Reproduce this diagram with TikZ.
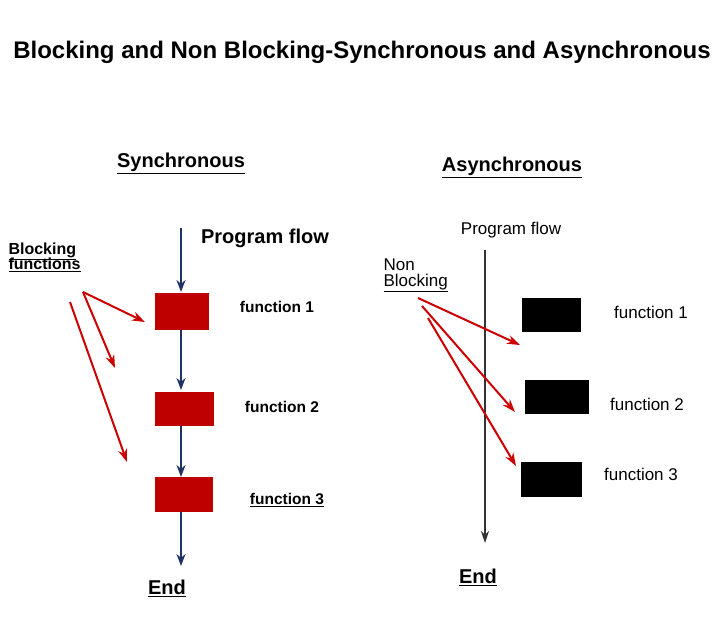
\documentclass[tikz,border=0pt]{standalone}
\usepackage{fontspec}
\setmainfont{Liberation Sans}
\usetikzlibrary{arrows.meta}
\begin{document}
\begin{tikzpicture}[x=1pt,y=-1pt,
 lab/.style={font=\bfseries\fontsize{20}{24}\selectfont},
 fb/.style={font=\bfseries\fontsize{15.5}{18}\selectfont},
 fl/.style={font=\fontsize{17}{20}\selectfont},
 rbox/.style={fill=red!75!black,draw=none,anchor=north west},
 bbox/.style={fill=black,draw=none,anchor=north west},
 blue/.style={draw={rgb,255:red,30;green,50;blue,100},line width=2pt,-{Stealth[length=12pt,width=9pt]}},
 red/.style={draw=red!80!black,line width=2pt,-{Stealth[length=13pt,width=9pt]}},
 blk/.style={draw=black!80,line width=1.6pt,-{Stealth[length=12pt,width=8pt]}}]
\useasboundingbox[fill=white] (0,0) rectangle (720,620);
\node[font=\bfseries\fontsize{24}{28}\selectfont] (title) at (362,52) {Blocking and Non Blocking-Synchronous and Asynchronous};
\node[lab] (sync) at (181,163) {\underline{Synchronous}};
\node[lab] (async) at (512,167) {\underline{Asynchronous}};
% left
\coordinate (s0) at (181,228);
\node[rbox,minimum width=54pt,minimum height=37pt] (r1) at (155,293) {};
\node[rbox,minimum width=59pt,minimum height=34pt] (r2) at (155,392) {};
\node[rbox,minimum width=58pt,minimum height=35pt] (r3) at (155,477) {};
\coordinate (s1t) at (181,292); \coordinate (s1b) at (181,330);
\coordinate (s2t) at (181,390); \coordinate (s2b) at (181,426);
\coordinate (s3t) at (181,477); \coordinate (s3b) at (181,512);
\coordinate (s4) at (181,566);
\draw[blue] (s0) -- (s1t);
\draw[blue] (s1b) -- (s2t);
\draw[blue] (s2b) -- (s3t);
\draw[blue] (s3b) -- (s4);
\node[lab] (pf1) at (265,238) {Program flow};
\node[fb] (f1) at (277,307) {function 1};
\node[fb] (f2) at (282,407) {function 2};
\node[fb] (f3) at (287,500) {\underline{function 3}};
\node[lab] (end1) at (167,588) {\underline{End}};
\node[font=\bfseries\fontsize{16}{18}\selectfont,align=left,anchor=west] (bf) at (5,257) {\underline{Blocking}\\[-3pt]\underline{functions}};
\coordinate (a1) at (83,292); \coordinate (a2) at (70,302);
\coordinate (e1) at (145,322); \coordinate (e2) at (115,368); \coordinate (e3) at (127,462);
\draw[red] (a1) -- (e1);
\draw[red] (a1) -- (e2);
\draw[red] (a2) -- (e3);
% right
\node[fl] (pf2) at (511,230) {Program flow};
\coordinate (v0) at (485,250); \coordinate (v1) at (485,543);
\draw[blk] (v0) -- (v1);
\node[bbox,minimum width=59pt,minimum height=34pt] (b1) at (522,298) {};
\node[bbox,minimum width=64pt,minimum height=34pt] (b2) at (525,380) {};
\node[bbox,minimum width=61pt,minimum height=35pt] (b3) at (521,462) {};
\node[fl] (g1) at (651,312) {function 1};
\node[fl] (g2) at (647,404) {function 2};
\node[fl] (g3) at (641,474) {function 3};
\node[font=\fontsize{17}{19}\selectfont,align=left,anchor=west] (nb) at (380,275) {Non\\[-3pt]\underline{Blocking}};
\coordinate (n1) at (418,298); \coordinate (n2) at (422,306); \coordinate (n3) at (428,318);
\coordinate (m1) at (520,345); \coordinate (m2) at (515,412); \coordinate (m3) at (516,466);
\draw[red] (n1) -- (m1);
\draw[red] (n2) -- (m2);
\draw[red] (n3) -- (m3);
\node[lab] (end2) at (478,577) {\underline{End}};
\end{tikzpicture}
\end{document}
